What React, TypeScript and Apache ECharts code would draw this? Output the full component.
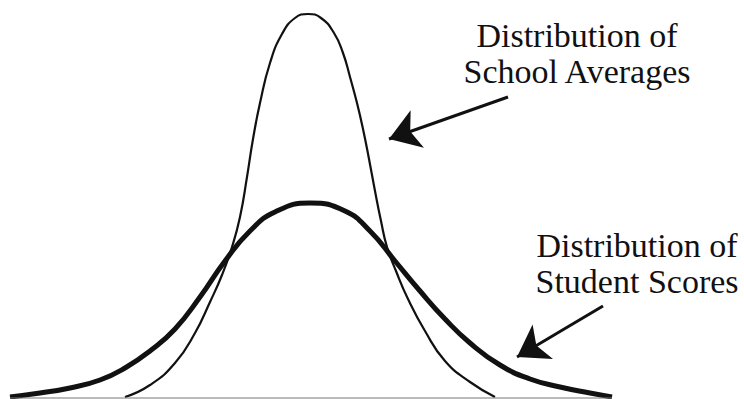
import React, { useEffect, useRef } from "react";
import * as echarts from "echarts";

// Distribution of school averages (thin curve): x position, height above baseline
const schoolX = [125, 150, 175, 195, 210, 222, 232, 240, 247, 253, 260, 270, 282, 295, 308, 321, 334, 343, 350, 357, 363, 369, 375, 381, 387, 396, 408, 425, 445, 470, 495];
const schoolH = [0, 12, 34, 64, 95, 122, 150, 180, 220, 258, 294, 334, 363, 379, 383, 379, 364, 344, 320, 294, 268, 238, 206, 176, 150, 126, 98, 66, 36, 15, 0];

// Distribution of student scores (thick curve)
const studentX = [10, 40, 70, 100, 125, 150, 175, 200, 225, 250, 275, 310, 345, 370, 395, 420, 445, 470, 500, 530, 560, 590, 612];
const studentH = [0, 4, 9, 17, 29, 46, 68, 100, 136, 166, 185, 194, 186, 166, 136, 106, 78, 54, 32, 18, 10, 4, 0];

const schoolLabel = ["Distribution of", "School Averages"];
const studentLabel = ["Distribution of", "Student Scores"];

// arrow annotations in data coordinates: [tail, head]
const schoolArrow = [[508, 300], [389, 258]];
const studentArrow = [[603, 91], [517, 40]];
const baseline = [[10, -1], [612, -1]];

const zip = (xs: number[], ys: number[]) => xs.map((x, i) => [x, ys[i]]);

export default function App() {
  const ref = useRef<HTMLDivElement>(null);
  useEffect(() => {
    if (!ref.current) return;
    const chart = echarts.init(ref.current, undefined, { renderer: "svg" });
    const font = "'Liberation Serif', 'Times New Roman', serif";
    const textEl = (t: string, x: number, y: number) => ({
      type: "text",
      x,
      y,
      style: {
        text: t,
        fontSize: 34,
        fontFamily: font,
        fill: "#111",
        align: "center",
        verticalAlign: "middle",
      },
    });
    chart.setOption({
      animation: false,
      backgroundColor: "#fff",
      grid: { left: 0, right: 0, top: 0, bottom: 0 },
      xAxis: { type: "value", min: 0, max: 744, show: false },
      yAxis: { type: "value", min: -2, max: 397, show: false },
      series: [
        {
          type: "line",
          data: zip(studentX, studentH),
          showSymbol: false,
          smooth: 0.5,
          lineStyle: { color: "#111", width: 5 },
          silent: true,
        },
        {
          type: "line",
          data: zip(schoolX, schoolH),
          showSymbol: false,
          smooth: 0.5,
          lineStyle: { color: "#111", width: 2.2 },
          silent: true,
        },
        {
          type: "line",
          data: baseline,
          showSymbol: false,
          lineStyle: { color: "#777", width: 1 },
          silent: true,
        },
        {
          type: "lines",
          coordinateSystem: "cartesian2d",
          symbol: ["none", "arrow"],
          symbolSize: [20, 30],
          lineStyle: { color: "#111", width: 3, opacity: 1, curveness: 0 },
          silent: true,
          data: [{ coords: schoolArrow }, { coords: studentArrow }],
        },
      ],
      graphic: [
        textEl(schoolLabel[0], 577, 35),
        textEl(schoolLabel[1], 577, 71),
        textEl(studentLabel[0], 637, 245),
        textEl(studentLabel[1], 637, 281),
      ],
    });
    return () => chart.dispose();
  }, []);
  return (
    <div
      ref={ref}
      style={{ position: "absolute", left: 0, top: 0, width: 744, height: 399, background: "#fff" }}
    />
  );
}
